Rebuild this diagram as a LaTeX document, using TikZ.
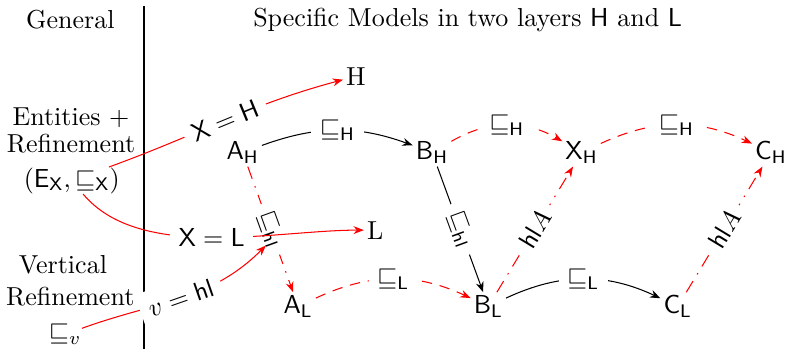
\documentclass[tikz,border=0pt]{standalone}
\usepackage{amsmath,amssymb}
\usepackage{xcolor}
\usepackage{tikz}
\usetikzlibrary{arrows.meta, positioning, calc}
\tikzset{
  modelnode/.style={inner sep=1pt},
  tightnode/.style={inner sep=0pt},
  colhead/.style={inner sep=0pt},
  steplabel/.style={fill=white, text=black},
  refarrow/.style={-{Stealth[length=4pt, width=3pt]}, black},
  maparrow/.style={-{Stealth[length=4pt, width=3pt]}, red},
  redashed/.style={maparrow, dash pattern=on 4pt off 3pt},
  redashdot/.style={maparrow, dash pattern=on 5pt off 3pt on 0.6pt off 3pt},
}

\begin{document}
\begin{tikzpicture}
  \useasboundingbox (0,0) rectangle (10.65,4.72);

  % ── Column heads ───────────────────────────────────────────────
  \node[colhead] (general) at (0.95,4.45) {General};
  \node[colhead] (specific) at (6.32,4.45)
    {Specific Models in two layers $\mathsf{H}$ and $\mathsf{L}$};
  \draw[thick] (1.95,4.64) -- (1.95,0);

  % ── General column ─────────────────────────────────────────────
  \node[anchor=base] (entities) at (0.96,3.03) {Entities +};
  \node[anchor=base] (refine) at (0.96,2.66) {Refinement};
  \node[tightnode] (gen) at (0.97,2.28)
    {$(\mathsf{E}_\mathsf{X},\sqsubseteq_\mathsf{X})$};

  \node[anchor=base] (vertical) at (0.85,1.03) {Vertical};
  \node[anchor=base] (vrefine) at (0.95,0.59) {Refinement};
  \node[tightnode] (vref) at (0.88,0.20) {$\sqsubseteq_v$};

  % ── Layer targets ──────────────────────────────────────────────
  \node[modelnode] (H) at (4.81,3.69) {H};
  \node[modelnode] (L) at (5.07,1.61) {L};

  % ── Layer H ────────────────────────────────────────────────────
  \node[modelnode] (AH) at (3.28,2.66) {$\mathsf{A}_\mathsf{H}$};
  \node[modelnode] (BH) at (5.84,2.66) {$\mathsf{B}_\mathsf{H}$};
  \node[modelnode] (XH) at (7.86,2.66) {$\mathsf{X}_\mathsf{H}$};
  \node[modelnode] (CH) at (10.42,2.66) {$\mathsf{C}_\mathsf{H}$};

  % ── Layer L ────────────────────────────────────────────────────
  \node[modelnode] (AL) at (4.03,0.58) {$\mathsf{A}_\mathsf{L}$};
  \node[modelnode] (BL) at (6.60,0.58) {$\mathsf{B}_\mathsf{L}$};
  \node[modelnode] (CL) at (9.16,0.58) {$\mathsf{C}_\mathsf{L}$};

  % ── Refinement inside a layer ──────────────────────────────────
  \draw[refarrow] (AH) to[bend left=20]
    node[steplabel] {$\sqsubseteq_\mathsf{H}$} (BH);
  \draw[redashed] (BH) to[bend left=30]
    node[steplabel] {$\sqsubseteq_\mathsf{H}$} (XH);
  \draw[redashed] (XH) to[bend left=25]
    node[steplabel] {$\sqsubseteq_\mathsf{H}$} (CH);
  \draw[redashed] (AL) to[bend left=25]
    node[steplabel] {$\sqsubseteq_\mathsf{L}$} (BL);
  \draw[refarrow] (BL) to[bend left=25]
    node[steplabel] {$\sqsubseteq_\mathsf{L}$} (CL);

  % ── Vertical refinement ────────────────────────────────────────
  \draw[redashdot] (AH) --
    node[steplabel, sloped] (hlAlbl) {$\sqsubseteq_\mathsf{hl}$} (AL);
  \draw[refarrow] (BH) --
    node[steplabel, sloped] {$\sqsubseteq_\mathsf{hl}$} (BL);
  \draw[redashdot] (BL) --
    node[steplabel, sloped] {$\mathsf{hl}A$} (XH);
  \draw[redashdot] (CL) --
    node[steplabel, sloped] {$\mathsf{hl}A$} (CH);

  % ── Instantiation of the general notions ───────────────────────
  \draw[maparrow] (gen) to[out=20, in=195]
    node[steplabel, sloped] {$\mathsf{X} = \mathsf{H}$} (H);
  \draw[maparrow] (gen) to[out=-50, in=180, looseness=0.8]
    node[steplabel] {$\mathsf{X} = \mathsf{L}$} (L);
  \draw[maparrow] (vref) to[out=20, in=-135]
    node[steplabel, sloped] {$v = \mathsf{hl}$}
    ($(hlAlbl.center)!0.5!(hlAlbl.south east)$);
\end{tikzpicture}
\end{document}
